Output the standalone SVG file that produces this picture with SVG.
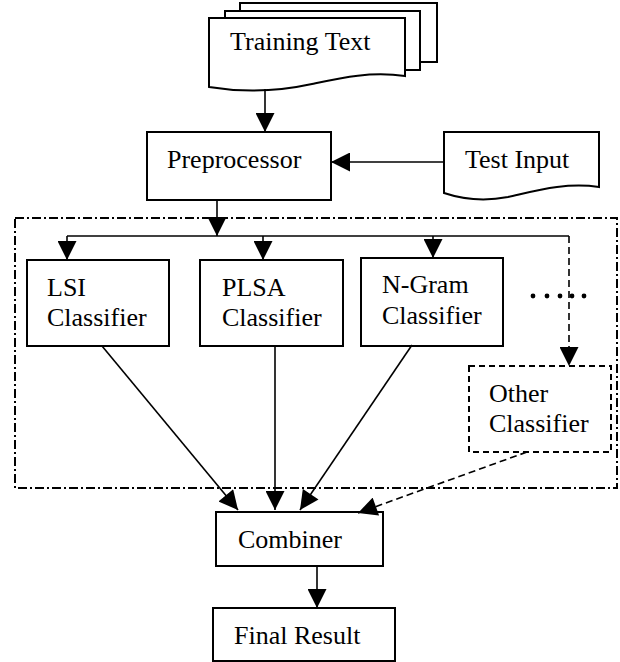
<svg xmlns="http://www.w3.org/2000/svg" width="620" height="662" viewBox="0 0 620 662">
<style>
.box{fill:#fff;stroke:#000;stroke-width:2}
.dbox{fill:#fff;stroke:#000;stroke-width:2;stroke-dasharray:6 4}
.grp{fill:none;stroke:#000;stroke-width:2;stroke-dasharray:9 3 2 3}
.ln{fill:none;stroke:#000;stroke-width:1.6}
.dl{fill:none;stroke:#000;stroke-width:1.6;stroke-dasharray:7 4}
text{font-family:"Liberation Serif","Times New Roman",serif;font-size:26px;fill:#000}
</style>
<defs>
<marker id="ah" viewBox="0 0 20 20" markerUnits="userSpaceOnUse" markerWidth="20" markerHeight="19" refX="20" refY="10" orient="auto">
<path d="M0,0 L20,10 L0,20 z" fill="#000"/>
</marker>
</defs>
<rect id="group-box" class="grp" x="15" y="218" width="602" height="270"/>
<g id="training-text">
<path class="box" d="M240,11 V3 H437 V62 H420"/>
<path class="box" d="M225,18 V11 H420 V70 H405"/>
<path class="box" d="M209,18 H405 V76 C370,71 340,78 312,84 C280,91 245,93 209,87 Z"/>
<text x="230" y="50">Training Text</text>
</g>
<g id="preprocessor">
<rect class="box" x="147" y="132" width="184" height="68"/>
<text x="167" y="168">Preprocessor</text>
</g>
<g id="test-input">
<path class="box" d="M444,132 H599 V187 C565,182 535,191 508,197 C482,202 462,199 444,193 Z"/>
<text x="465" y="168">Test Input</text>
</g>
<g id="lsi">
<rect class="box" x="27" y="260" width="142" height="86"/>
<text x="47" y="296">LSI</text>
<text x="47" y="326">Classifier</text>
</g>
<g id="plsa">
<rect class="box" x="200" y="260" width="143" height="86"/>
<text x="222" y="296">PLSA</text>
<text x="222" y="326">Classifier</text>
</g>
<g id="ngram">
<rect class="box" x="361" y="258" width="142" height="88"/>
<text x="382" y="293">N-Gram</text>
<text x="382" y="324">Classifier</text>
</g>
<g id="other">
<rect class="dbox" x="469" y="366" width="142" height="86"/>
<text x="489" y="402">Other</text>
<text x="489" y="432">Classifier</text>
</g>
<g id="ellipsis">
<circle cx="533" cy="296" r="2.4"/>
<circle cx="547" cy="296" r="2.4"/>
<circle cx="560" cy="296" r="2.4"/>
<circle cx="572" cy="296" r="2.4"/>
<circle cx="584" cy="296" r="2.4"/>
</g>
<g id="combiner">
<rect class="box" x="216" y="512" width="167" height="54"/>
<text x="238" y="548">Combiner</text>
</g>
<g id="final-result">
<rect class="box" x="213" y="608" width="182" height="53"/>
<text x="234" y="644">Final Result</text>
</g>
<g id="connectors">
<path class="ln" d="M265,89 V132" marker-end="url(#ah)"/>
<path class="ln" d="M444,162 H331" marker-end="url(#ah)"/>
<path class="ln" d="M217,200 V236" marker-end="url(#ah)"/>
<path class="ln" d="M67,236 H569"/>
<path class="ln" d="M67,236 V260" marker-end="url(#ah)"/>
<path class="ln" d="M263,236 V260" marker-end="url(#ah)"/>
<path class="ln" d="M433,236 V258" marker-end="url(#ah)"/>
<path class="dl" d="M569,236 V366" marker-end="url(#ah)"/>
<path class="ln" d="M102,346 L238,510" marker-end="url(#ah)"/>
<path class="ln" d="M275,346 V510" marker-end="url(#ah)"/>
<path class="ln" d="M412,345 L300,510" marker-end="url(#ah)"/>
<path class="dl" d="M527,452 L358,513" marker-end="url(#ah)"/>
<path class="ln" d="M317,566 V608" marker-end="url(#ah)"/>
</g>
</svg>
